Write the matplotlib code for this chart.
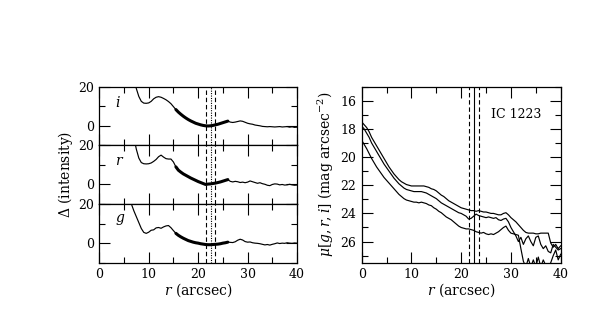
import numpy as np
import matplotlib
matplotlib.use("Agg")
import matplotlib.pyplot as plt
from matplotlib.ticker import MultipleLocator

plt.rcParams['font.family'] = ['DejaVu Serif']
plt.rcParams['mathtext.fontset'] = 'dejavuserif'

# ---------------- data ----------------
# residual profiles (left), radius grid in arcsec
r_i = np.arange(7.0, 40.01, 0.5)
d_i = [24, 19, 15, 12.5, 11.6, 11.5, 11.7, 12.5, 13.8, 14.6, 14.9, 14.6, 14.0, 13.3,
       12.4, 11.3, 9.8, 8.3, 7.0, 5.9, 4.9, 4.0, 3.2, 2.5, 1.9, 1.3, 0.9, 0.5, 0.2,
       0.0, -0.1, 0.0, 0.2, 0.5, 0.8, 1.2, 1.6, 2.0, 2.4, 1.9, 1.7, 1.9, 2.2, 2.5,
       2.3, 1.8, 1.3, 1.0, 0.8, 0.4, 0.2, 0.0, -0.3, -0.4, -0.5, -0.4, -0.5, -0.6,
       -0.5, -0.4, -0.6, -0.5, -0.4, -0.7, -0.5, -0.8, -0.7]

r_r = np.arange(7.0, 40.01, 0.5)
d_r = [24, 18, 13.5, 11.2, 10.6, 10.5, 10.6, 11.0, 11.8, 12.8, 14.2, 15.0, 14.0, 13.2,
       13.0, 13.0, 11.5, 9.0, 7.3, 6.3, 5.4, 4.7, 4.0, 3.3, 2.7, 2.1, 1.5, 1.0, 0.5,
       0.0, 0.2, 0.3, 0.5, 0.7, 1.0, 1.3, 1.7, 2.1, 2.5, 1.6, 1.3, 1.6, 1.4, 1.0,
       1.2, 0.9, 1.2, 1.8, 1.4, 1.0, 0.6, 0.9, 0.4, 0.1, -0.4, -0.6, 0.0, 0.3, 0.2,
       -0.2, 0.0, -0.3, -0.2, 0.1, -0.2, -0.4, -0.3]

r_g = np.arange(6.0, 40.01, 0.5)
d_g = [25, 20, 16.5, 13.5, 10.5, 7.5, 5.5, 5.0, 5.6, 6.6, 6.8, 7.8, 8.0, 7.6, 8.3,
       8.8, 9.0, 7.9, 6.4, 5.0, 4.0, 3.2, 2.5, 1.9, 1.3, 0.9, 0.5, 0.2, 0.0, -0.3,
       -0.5, -0.7, -0.8, -0.8, -0.7, -0.6, -0.5, -0.3, 0.0, 0.2, 0.5, 0.4, 0.3, 0.7,
       1.5, 2.0, 1.6, 0.8, 0.5, 0.6, 0.2, 0.0, -0.1, -0.3, -0.6, -0.9, -0.7, -1.0,
       -0.6, -0.3, 0.1, -0.2, 0.0, -0.1, 0.2, 0.0, -0.1, 0.1, 0.0]

fit_range = (15.5, 26.0)
band_names = ['i', 'r', 'g']

# surface brightness profiles (right)
r_sb = np.arange(0.0, 40.01, 0.5)
mu_i = [17.5, 17.7, 17.9, 18.2, 18.6, 18.9, 19.2, 19.5, 19.8, 20.1, 20.4, 20.7, 20.95,
        21.2, 21.4, 21.6, 21.75, 21.85, 21.95, 22.0, 22.05, 22.05, 22.05, 22.05, 22.05,
        22.05, 22.1, 22.15, 22.25, 22.3, 22.4, 22.55, 22.7, 22.8, 22.95, 23.1, 23.2,
        23.3, 23.4, 23.5, 23.6, 23.65, 23.7, 23.75, 23.8, 23.8, 23.85, 23.8, 23.85,
        23.9, 23.9, 23.95, 24.0, 24.0, 24.05, 24.1, 24.1, 24.0, 23.95, 24.1, 24.3,
        24.45, 24.6, 24.8, 25.0, 25.2, 25.35, 25.4, 25.4, 25.4, 25.45, 25.45, 25.4,
        25.4, 25.4, 25.4, 26.1, 26.4, 26.2, 26.5, 26.3]
mu_r = [17.8, 18.0, 18.3, 18.6, 19.0, 19.3, 19.6, 19.9, 20.2, 20.5, 20.75, 21.0, 21.25,
        21.5, 21.7, 21.9, 22.05, 22.2, 22.3, 22.35, 22.4, 22.45, 22.45, 22.45, 22.45,
        22.5, 22.55, 22.65, 22.75, 22.85, 22.95, 23.1, 23.25, 23.35, 23.45, 23.55,
        23.65, 23.75, 23.85, 23.95, 24.0, 24.1, 24.2, 24.4, 24.35, 24.2, 24.05, 24.15,
        24.2, 24.25, 24.3, 24.25, 24.3, 24.35, 24.3, 24.45, 24.5, 24.4, 24.35, 24.6,
        25.0, 25.3, 25.6, 26.0, 25.7, 26.2, 25.8, 25.6, 26.0, 26.3, 25.7, 25.6, 26.2,
        26.5, 26.3, 26.7, 26.8, 26.2, 26.4, 26.6, 26.5]
mu_g = [18.8, 19.1, 19.4, 19.75, 20.1, 20.4, 20.7, 20.95, 21.2, 21.45, 21.65, 21.85,
        22.05, 22.25, 22.45, 22.65, 22.8, 22.95, 23.05, 23.1, 23.15, 23.2, 23.2, 23.25,
        23.2, 23.25, 23.3, 23.4, 23.45, 23.6, 23.7, 23.85, 23.95, 24.1, 24.25, 24.35,
        24.45, 24.6, 24.75, 24.9, 25.0, 25.05, 25.1, 25.1, 25.15, 25.2, 25.3, 25.35,
        25.4, 25.35, 25.45, 25.5, 25.45, 25.5, 25.4, 25.3, 25.15, 25.0, 24.9, 25.2,
        25.4, 25.45, 25.5, 25.55, 26.5, 27.4, 27.8, 27.2, 27.8, 27.3, 27.8, 27.1, 27.8,
        27.3, 27.7, 27.8, 27.5, 27.0, 26.6, 27.3, 26.9]

r_break = 22.5
r_break_lo = 21.5
r_break_hi = 23.5
galaxy = 'IC 1223'

# ---------------- figure ----------------
fig = plt.figure(figsize=(5.98, 3.18), dpi=100)

FS = 9
LFS = 10
L0, L1 = 0.166, 0.4967
B0, T0 = 0.1739, 0.7274
ph = (T0 - B0) / 3


def style(ax, xmaj=10, xmin=5):
    ax.xaxis.set_major_locator(MultipleLocator(xmaj))
    ax.xaxis.set_minor_locator(MultipleLocator(xmin))
    ax.tick_params(which='both', direction='in', top=True, right=True,
                   labelsize=FS, width=0.8, pad=4)
    ax.tick_params(which='major', length=8)
    ax.tick_params(which='minor', length=4)
    for s in ax.spines.values():
        s.set_linewidth(0.9)


left_data = [(r_i, d_i), (r_r, d_r), (r_g, d_g)]
for k, (rr, dd) in enumerate(left_data):
    ax = fig.add_axes([L0, T0 - (k + 1) * ph, L1 - L0, ph])
    rr = np.asarray(rr)
    dd = np.asarray(dd)
    ax.plot(rr, dd, color='black', lw=0.85)
    m = (rr >= fit_range[0]) & (rr <= fit_range[1])
    ax.plot(rr[m], dd[m], color='black', lw=2.2, solid_capstyle='round')
    ax.axvline(r_break_lo, color='black', ls=(0, (4, 2.5)), lw=0.8)
    ax.axvline(r_break_hi, color='black', ls=(0, (4, 2.5)), lw=0.8)
    ax.axvline(r_break, color='black', ls=(0, (1, 1.2)), lw=0.8)
    ax.set_xlim(0, 40)
    ax.set_ylim(-10, 20)
    ax.yaxis.set_major_locator(MultipleLocator(20))
    ax.yaxis.set_minor_locator(MultipleLocator(10))
    style(ax)
    ax.text(3.2, 12.0, '$' + band_names[k] + '$', fontsize=LFS, ha='left', va='center')
    if k < 2:
        ax.tick_params(labelbottom=False)
    else:
        ax.set_xlabel('$r$ (arcsec)', fontsize=LFS, labelpad=0)

fig.text(0.110, (T0 + B0) / 2, r'$\Delta$ (intensity)', rotation=90,
         ha='center', va='center', fontsize=LFS)

# right panel
axr = fig.add_axes([0.6048, B0, 0.9376 - 0.6048, T0 - B0])
for mu in (mu_i, mu_r, mu_g):
    axr.plot(r_sb, mu, color='black', lw=0.85)
axr.axvline(r_break_lo, color='black', ls=(0, (4, 2.5)), lw=0.8)
axr.axvline(r_break_hi, color='black', ls=(0, (4, 2.5)), lw=0.8)
axr.axvline(r_break, color='black', ls='-', lw=0.8)
axr.set_xlim(0, 40)
axr.set_ylim(27.5, 15)
axr.yaxis.set_major_locator(MultipleLocator(2))
axr.yaxis.set_minor_locator(MultipleLocator(1))
style(axr)
axr.xaxis.set_minor_locator(MultipleLocator(5))
axr.set_xlabel('$r$ (arcsec)', fontsize=LFS, labelpad=0)
axr.set_ylabel(r'$\mu[g,r,i]$ (mag arcsec$^{-2}$)', fontsize=LFS, labelpad=3)
axr.text(26.0, 17.0, galaxy, fontsize=FS, ha='left', va='center')

fig.savefig('out.png', dpi=100)
